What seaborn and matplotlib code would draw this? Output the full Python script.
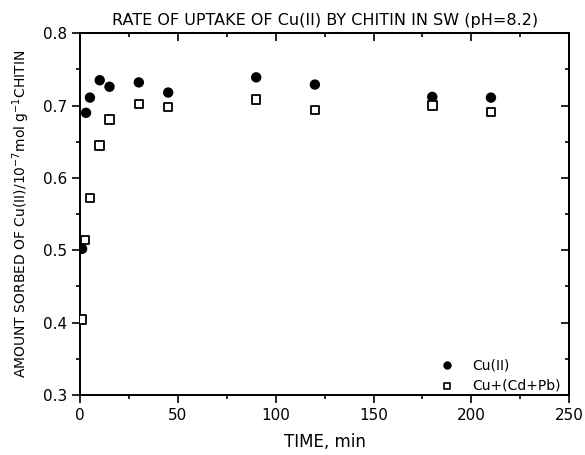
import numpy as np
import pandas as pd
import matplotlib
matplotlib.use("Agg")
import matplotlib.pyplot as plt
import seaborn as sns

# time (min) and amount sorbed (10^-7 mol g^-1 chitin)
t_cu = [1, 3, 5, 10, 15, 30, 45, 90, 120, 180, 210]
y_cu = [0.502, 0.690, 0.711, 0.735, 0.726, 0.732, 0.718, 0.739, 0.729, 0.712, 0.711]

t_mix = [1, 2.5, 5, 10, 15, 30, 45, 90, 120, 180, 210]
y_mix = [0.404, 0.514, 0.572, 0.645, 0.681, 0.702, 0.698, 0.708, 0.694, 0.700, 0.691]

dados = pd.DataFrame({
    "t": t_cu + t_mix,
    "y": y_cu + y_mix,
    "serie": ["Cu(II)"] * len(t_cu) + ["Cu+(Cd+Pb)"] * len(t_mix),
})

sns.set_style("ticks")
plt.rcParams["font.family"] = ["DejaVu Sans"]
plt.rcParams["text.color"] = "black"
plt.rcParams["axes.labelcolor"] = "black"

fig = plt.figure(figsize=(5.85, 4.55), dpi=100)
ax = fig.add_axes([0.137, 0.132, 0.836, 0.795])

sns.scatterplot(data=dados, x="t", y="y", hue="serie", style="serie",
                markers={"Cu(II)": "o", "Cu+(Cd+Pb)": "s"},
                palette={"Cu(II)": "black", "Cu+(Cd+Pb)": "black"},
                ax=ax, s=38, legend=False, zorder=3)
# filled circles, open squares
pts = ax.collections[0]
pts.set_facecolors(["black"] * len(t_cu) + ["white"] * len(t_mix))
pts.set_edgecolors("black")
pts.set_linewidths(1.3)

xmaj = [0, 50, 100, 150, 200, 250]
xmin = np.arange(0, 251, 25)
ymaj = [0.3, 0.4, 0.5, 0.6, 0.7, 0.8]
ymin = np.arange(0.3, 0.801, 0.05)

ax.set_xlim(0, 250)
ax.set_ylim(0.3, 0.8)
ax.set_xticks(xmaj)
ax.set_xticks(xmin, minor=True)
ax.set_yticks(ymaj)
ax.set_yticks(ymin, minor=True)
ax.set_yticklabels(["0.3", "0.4", "0.5", "0.6", "0.7", "0.8"])
ax.tick_params(which="both", direction="out", labelsize=11, width=1.2,
               color="black", labelcolor="black")
ax.tick_params(which="major", length=6)
ax.tick_params(which="minor", length=3)

# inward ticks on top and right
top = ax.secondary_xaxis("top")
top.set_xticks(xmaj)
top.set_xticks(xmin, minor=True)
right = ax.secondary_yaxis("right")
right.set_yticks(ymaj)
right.set_yticks(ymin, minor=True)
for sec in (top, right):
    sec.tick_params(which="both", direction="in", width=1.2, color="black",
                    labelleft=False, labelright=False, labeltop=False,
                    labelbottom=False)
    sec.tick_params(which="major", length=6)
    sec.tick_params(which="minor", length=3)
    for s in sec.spines.values():
        s.set_linewidth(1.4)
        s.set_color("black")

for s in ax.spines.values():
    s.set_linewidth(1.4)
    s.set_color("black")

ax.set_xlabel("TIME, min", fontsize=12, labelpad=7)
ax.set_ylabel("AMOUNT SORBED OF Cu(II)/10$^{-7}$mol g$^{-1}$CHITIN", fontsize=10,
              labelpad=8)
ax.set_title("RATE OF UPTAKE OF Cu(II) BY CHITIN IN SW (pH=8.2)", fontsize=11.5, pad=6)

# legend
ax.scatter([187.5], [0.341], marker="o", s=25, color="black", zorder=3)
ax.scatter([187.5], [0.3125], marker="s", s=22, facecolor="white",
           edgecolor="black", linewidth=1.2, zorder=3)
ax.text(200.5, 0.341, "Cu(II)", fontsize=10, va="center")
ax.text(200.5, 0.3125, "Cu+(Cd+Pb)", fontsize=10, va="center")

fig.savefig("out.png", dpi=100)
